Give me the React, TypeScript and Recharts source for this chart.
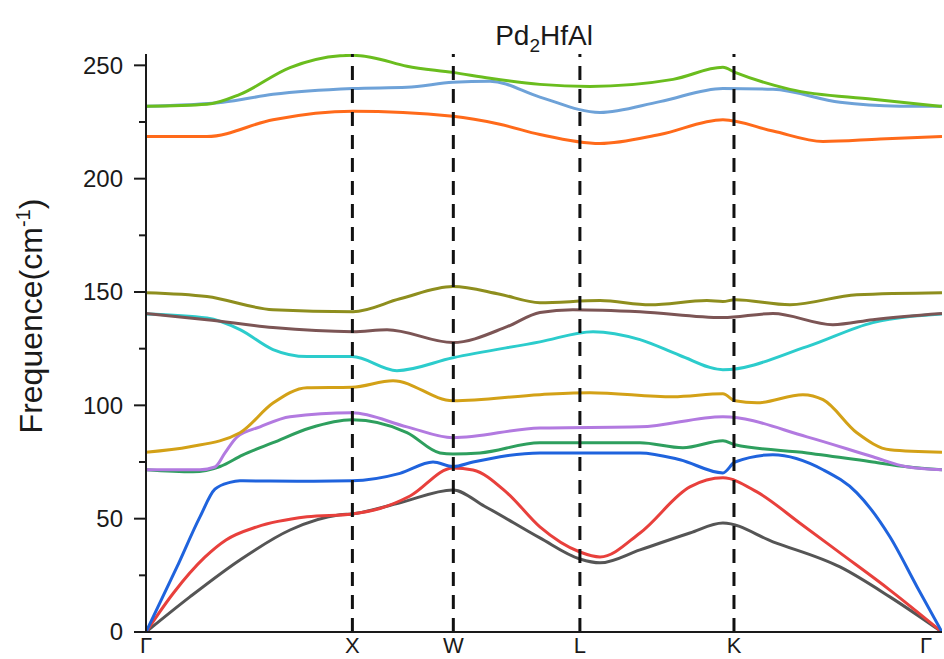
import React from "react";
import { LineChart, Line, XAxis, YAxis, ReferenceLine } from "recharts";

// high symmetry path (k in path-length units), tick label positions
const kTicks = [0, 1.006, 1.498, 2.115, 2.866, 3.88];
const kLabels = ["Γ", "X", "W", "L", "K", "Γ"];
const freqTicks = [0, 25, 50, 75, 100, 125, 150, 175, 200, 225, 250];

// phonon bands, [k, frequency cm-1]
const bandGray = [[0, 0], [0.214, 15.5], [0.458, 31.8], [0.702, 45], [0.946, 51.7], [1.004, 52.1], [1.238, 57], [1.496, 62.7], [1.65, 55.5], [1.92, 41.5], [2.115, 32.2], [2.213, 30.5], [2.408, 36.2], [2.651, 43.7], [2.812, 48.1], [3.056, 39.8], [3.383, 28.7], [3.626, 15.5], [3.88, 0]];
const bandRed = [[0, 0], [0.132, 17], [0.287, 33], [0.39, 40.6], [0.541, 46.4], [0.785, 50.8], [1.004, 52.1], [1.14, 54.5], [1.287, 60], [1.496, 72.4], [1.594, 71.5], [1.76, 61.4], [1.92, 46.4], [2.115, 35.3], [2.213, 33.1], [2.408, 43.7], [2.651, 64], [2.812, 68], [2.978, 61.8], [3.188, 48], [3.383, 34.9], [3.626, 18.5], [3.88, 0]];
const bandBlue = [[0, 0], [0.151, 28.7], [0.263, 50.8], [0.336, 63], [0.409, 66], [0.458, 66.7], [0.751, 66.5], [1.004, 66.7], [1.238, 70], [1.399, 75], [1.496, 73], [1.594, 75], [1.92, 79], [2.408, 79], [2.603, 76], [2.812, 70.2], [2.871, 75], [3.056, 78.2], [3.3, 71.6], [3.465, 61.4], [3.626, 42], [3.758, 20], [3.88, 0]];
const bandSea = [[0, 71.6], [0.229, 70.7], [0.361, 73], [0.47, 78], [0.619, 83.5], [0.799, 90], [1.004, 93.6], [1.272, 88], [1.433, 79], [1.496, 78.5], [1.628, 79], [1.92, 83.5], [2.408, 83.5], [2.617, 81.3], [2.812, 84.4], [2.871, 82.6], [3.222, 79], [3.543, 75], [3.709, 72.9], [3.88, 71.6]];
const bandPurple = [[0, 71.6], [0.263, 71.6], [0.336, 72.8], [0.385, 79], [0.443, 86], [0.556, 90.5], [0.702, 95], [1.004, 96.7], [1.272, 90.5], [1.496, 85.7], [1.92, 90], [2.408, 90.5], [2.812, 95], [3.222, 86.1], [3.543, 77.3], [3.709, 72.9], [3.88, 71.6]];
const bandGold = [[0, 79.3], [0.214, 81.7], [0.458, 87.9], [0.619, 101], [0.785, 107.8], [1.004, 108], [1.204, 110.9], [1.496, 102], [1.92, 104.7], [2.164, 105.6], [2.569, 103.8], [2.812, 105.1], [2.871, 102], [2.978, 101.1], [3.202, 104.7], [3.3, 102.5], [3.465, 87.9], [3.626, 80.4], [3.88, 79.3]];
const bandCyan = [[0, 140.3], [0.297, 138.5], [0.458, 133.4], [0.619, 124.6], [0.785, 121.5], [1.004, 121.5], [1.223, 115.3], [1.496, 121], [1.92, 128], [2.179, 132.5], [2.408, 129], [2.603, 122], [2.812, 115.7], [3.222, 125.9], [3.543, 136.5], [3.88, 140.3]];
const bandBrown = [[0, 140.5], [0.297, 137.8], [0.619, 134.3], [1.009, 132.5], [1.175, 133.4], [1.496, 127.7], [1.76, 134.7], [1.92, 141], [2.081, 142.2], [2.408, 141.3], [2.812, 138.7], [3.056, 140.5], [3.348, 135.6], [3.543, 137.8], [3.88, 140.5]];
const bandOlive = [[0, 149.7], [0.297, 148], [0.619, 142.2], [1.009, 141.3], [1.238, 147], [1.496, 152.4], [1.725, 149], [1.92, 145.3], [2.213, 146.2], [2.457, 144.4], [2.734, 146.2], [2.812, 145.8], [2.871, 146.6], [3.139, 144.4], [3.465, 148.8], [3.88, 149.7]];
const bandOrange = [[0, 218.6], [0.297, 218.6], [0.619, 226], [1.009, 229.7], [1.496, 227.5], [1.725, 224], [1.92, 219.5], [2.213, 215.5], [2.505, 219.5], [2.812, 226], [3.056, 221], [3.3, 216.4], [3.578, 217.5], [3.88, 218.6]];
const bandSky = [[0, 231.9], [0.375, 233.7], [0.619, 237.2], [1.009, 239.8], [1.272, 240.3], [1.496, 242.5], [1.677, 243], [1.92, 236], [2.213, 229.2], [2.505, 234], [2.812, 239.8], [3.056, 239.4], [3.383, 233.7], [3.675, 232], [3.88, 231.9]];
const bandLime = [[0, 231.9], [0.297, 232.8], [0.458, 237.2], [0.702, 249], [0.946, 254.2], [1.009, 254.4], [1.1, 253.5], [1.272, 249.6], [1.496, 246.9], [1.677, 244.3], [1.92, 241.6], [2.164, 240.7], [2.569, 243.8], [2.812, 249.1], [2.871, 246.9], [3.139, 239.4], [3.543, 235], [3.88, 231.9]];

const bands = [
  { id: "b1", pts: bandGray, color: "#555555" },
  { id: "b2", pts: bandRed, color: "#e8403c" },
  { id: "b3", pts: bandBlue, color: "#1f63dd" },
  { id: "b4", pts: bandSea, color: "#2e9f5e" },
  { id: "b5", pts: bandPurple, color: "#b27ae0" },
  { id: "b6", pts: bandGold, color: "#d3a117" },
  { id: "b7", pts: bandCyan, color: "#2ccccc" },
  { id: "b8", pts: bandBrown, color: "#7c5555" },
  { id: "b9", pts: bandOlive, color: "#8e8e1e" },
  { id: "b10", pts: bandOrange, color: "#ff6a1a" },
  { id: "b11", pts: bandSky, color: "#6ea2d8" },
  { id: "b12", pts: bandLime, color: "#6abd1e" },
];

const font = "'Liberation Sans', Arial, sans-serif";
const ink = "#1a1a1a";

const YTick = (props: any) => {
  const { x, y, payload } = props;
  const major = payload.value % 50 === 0;
  return (
    <g>
      <line x1={x - (major ? 12 : 7)} x2={x} y1={y} y2={y} stroke={ink} strokeWidth={2} />
      {major && (
        <text x={x - 23} y={y} dy="0.35em" textAnchor="end" fontSize={24} fill={ink} fontFamily={font}>
          {payload.value}
        </text>
      )}
    </g>
  );
};

const XTick = (props: any) => {
  const { x, y, payload } = props;
  const i = kTicks.indexOf(payload.value);
  // keep the last label inside the right edge
  const anchor = i === kTicks.length - 1 ? "end" : "middle";
  return (
    <text x={i === kTicks.length - 1 ? x + 2 : x} y={y + 21} textAnchor={anchor} fontSize={22} fill={ink} fontFamily={font}>
      {kLabels[i]}
    </text>
  );
};

export default function App() {
  return (
    <div style={{ position: "absolute", left: 0, top: 0, width: 944, height: 659, background: "#fff", fontFamily: font }}>
      <div
        style={{
          position: "absolute",
          left: 544,
          top: 22,
          transform: "translateX(-50%)",
          fontSize: 28,
          lineHeight: 1,
          color: ink,
          whiteSpace: "nowrap",
        }}
      >
        Pd<sub style={{ fontSize: 19, lineHeight: 0 }}>2</sub>HfAl
      </div>
      <div
        style={{
          position: "absolute",
          left: 31,
          top: 316,
          transform: "translate(-50%, -50%) rotate(-90deg)",
          fontSize: 32,
          lineHeight: 1,
          color: ink,
          whiteSpace: "nowrap",
        }}
      >
        Frequence(cm<sup style={{ fontSize: 20, lineHeight: 0 }}>-1</sup>)
      </div>
      <LineChart width={944} height={659} margin={{ top: 54, right: 2, bottom: 0, left: 0 }}>
        <XAxis
          dataKey="k"
          type="number"
          domain={[0, 3.88]}
          ticks={kTicks}
          allowDataOverflow
          height={27}
          tickLine={false}
          tickSize={0}
          tickMargin={0}
          tick={<XTick />}
          axisLine={{ stroke: ink, strokeWidth: 2 }}
        />
        <XAxis
          xAxisId="top"
          orientation="top"
          type="number"
          domain={[0, 3.88]}
          height={0}
          tick={false}
          tickLine={false}
          axisLine={{ stroke: ink, strokeWidth: 2 }}
        />
        <YAxis
          type="number"
          domain={[0, 255]}
          ticks={freqTicks}
          allowDataOverflow
          width={146}
          tickLine={false}
          tickSize={0}
          tickMargin={0}
          tick={<YTick />}
          axisLine={{ stroke: ink, strokeWidth: 2 }}
        />
        <YAxis
          yAxisId="right"
          orientation="right"
          type="number"
          domain={[0, 255]}
          width={0}
          tick={false}
          tickLine={false}
          axisLine={{ stroke: ink, strokeWidth: 2 }}
        />
        {bands.map((b) => (
          <Line
            key={b.id}
            data={b.pts.map(([k, f]) => ({ k, f }))}
            dataKey="f"
            type="monotone"
            stroke={b.color}
            strokeWidth={3}
            dot={false}
            activeDot={false}
            isAnimationActive={false}
          />
        ))}
        {kTicks.slice(1, 5).map((k) => (
          <ReferenceLine key={k} x={k} stroke="#111" strokeWidth={3} strokeDasharray="14 9" />
        ))}
      </LineChart>
    </div>
  );
}
